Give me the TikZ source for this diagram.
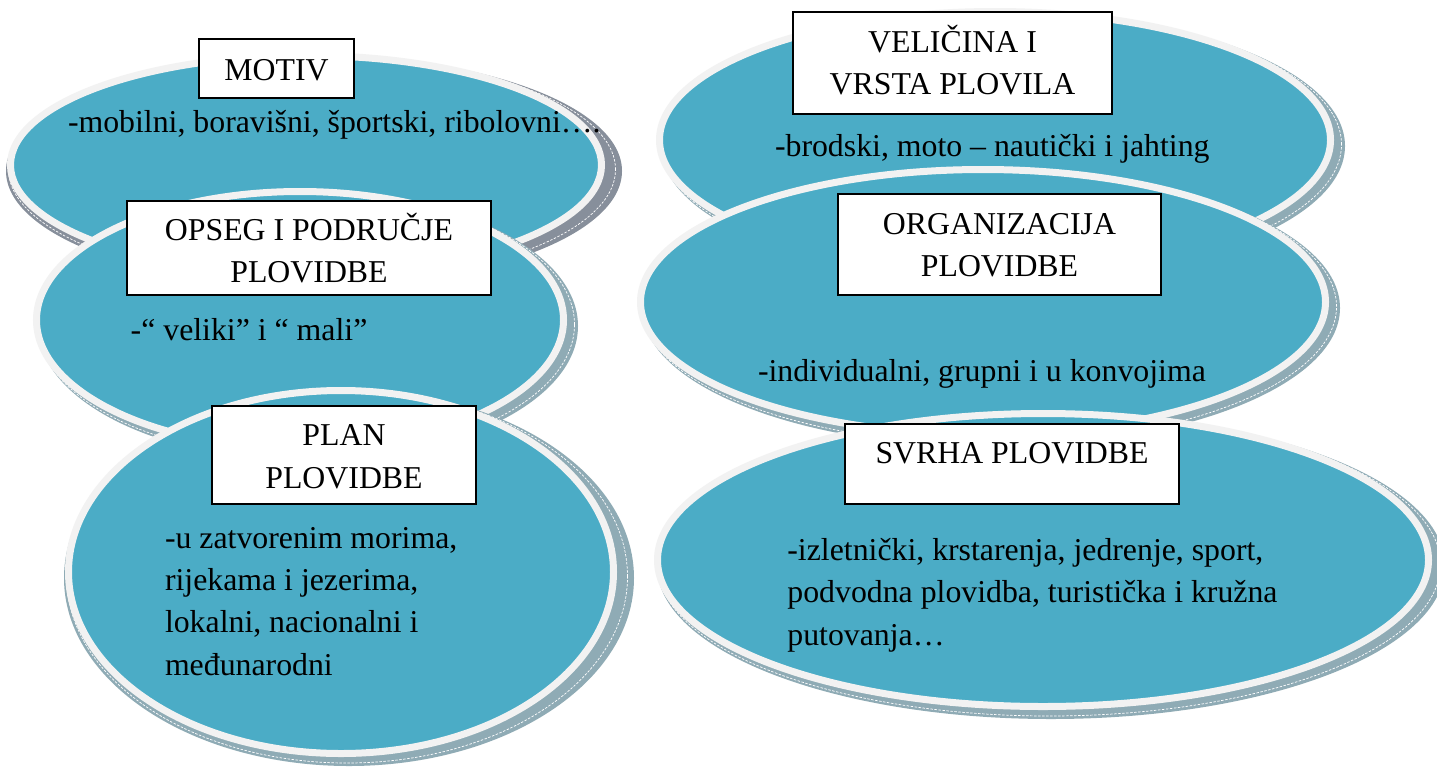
\documentclass[tikz,border=0pt]{standalone}
\usepackage{fontspec}
\setmainfont{Liberation Serif}
\usetikzlibrary{shapes.geometric}
\definecolor{aqua}{HTML}{4BACC6}
\definecolor{rim}{HTML}{F2F2F2}
\definecolor{shadeA}{HTML}{878F9B}
\definecolor{shadeB}{HTML}{8FABB5}
\tikzset{
  oval/.style={ellipse, inner sep=0pt, outer sep=0pt, fill=aqua, draw=rim, line width=7pt},
  ovshadow/.style={ellipse, inner sep=0pt, outer sep=0pt},
  ovdash/.style={ellipse, inner sep=0pt, outer sep=0pt, draw=white, line width=0.7pt, dash pattern=on 2.5pt off 1.5pt},
  titlebox/.style={draw=black, fill=white, line width=1.6pt, inner sep=0pt, outer sep=0pt},
  txt/.style={inner sep=0pt, outer sep=0pt, font=\fontsize{31.8pt}{42.3pt}\selectfont},
  body/.style={txt, anchor=base west},
  head/.style={txt, anchor=base},
}
% #1 name, #2 cx, #3 cy, #4 rx, #5 ry, #6 shadow colour, #7 extra shadow width
\newcommand\bubble[7]{%
  \node[ovshadow, fill=#6, minimum width={2*(#4+#7)}, minimum height={2*(#5+3)}] (#1-shadow) at (#2+8,#3+6) {};
  \node[ovdash, minimum width={2*(#4+#7/2)}, minimum height={2*(#5+1.5)}] (#1-bevel) at (#2+6,#3+4.5) {};
  \node[oval, minimum width={2*#4-7}, minimum height={2*#5-7}] (#1) at (#2,#3) {};
}
\begin{document}
\begin{tikzpicture}[x=1pt,y=-1pt]
\useasboundingbox[fill=white] (0,0) rectangle (1437,766);

% 1 MOTIV
\bubble{e1}{306}{165}{299}{113}{shadeA}{9}
\node[titlebox, minimum width=155pt, minimum height=59pt] (b1) at (276.5,68.5) {};
\node[head] (h1) at (276.5,80) {MOTIV};
\node[body] (t1) at (68,132) {-mobilni, boravišni, športski, ribolovni….};

% 2 VELICINA
\bubble{e2}{995}{140}{339}{132}{shadeB}{3}
\node[titlebox, minimum width=319pt, minimum height=102pt] (b2) at (952.5,63) {};
\node[head] (h2a) at (952.5,52.7) {VELIČINA I};
\node[head] (h2b) at (952.5,94.5) {VRSTA PLOVILA};
\node[body] (t2) at (775,156.7) {-brodski, moto – nautički i jahting};

% 3 OPSEG
\bubble{e3}{300}{320}{267}{132}{shadeB}{3}
\node[titlebox, minimum width=364pt, minimum height=94pt] (b3) at (309,248) {};
\node[head] (h3a) at (309,240) {OPSEG I PODRUČJE};
\node[head] (h3b) at (309,282.5) {PLOVIDBE};
\node[body] (t3) at (130.7,340) {-“ veliki” i “ mali”};

% 4 ORGANIZACIJA
\bubble{e4}{983}{302}{346}{136}{shadeB}{3}
\node[titlebox, minimum width=323pt, minimum height=101pt] (b4) at (999.5,244.5) {};
\node[head] (h4a) at (999.5,234.3) {ORGANIZACIJA};
\node[head] (h4b) at (999.5,276.7) {PLOVIDBE};
\node[body] (t4) at (758,381) {-individualni, grupni i u konvojima};

% 5 PLAN
\bubble{e5}{341}{572}{276}{185}{shadeB}{9}
\node[titlebox, minimum width=264pt, minimum height=98pt] (b5) at (344,455) {};
\node[head] (h5a) at (344,445) {PLAN};
\node[head] (h5b) at (344,488) {PLOVIDBE};
\node[body] (t5a) at (165,548) {-u zatvorenim morima,};
\node[body] (t5b) at (165,590) {rijekama i jezerima,};
\node[body] (t5c) at (165,632) {lokalni, nacionalni i};
\node[body] (t5d) at (165,675) {međunarodni};

% 6 SVRHA
\bubble{e6}{1043}{560}{389}{150}{shadeB}{5}
\node[titlebox, minimum width=334pt, minimum height=80pt] (b6) at (1012,464) {};
\node[head] (h6) at (1012,463.3) {SVRHA PLOVIDBE};
\node[body] (t6a) at (787.4,560) {-izletnički, krstarenja, jedrenje, sport,};
\node[body] (t6b) at (787.4,602) {podvodna plovidba, turistička i kružna};
\node[body] (t6c) at (787.4,645) {putovanja…};
\end{tikzpicture}
\end{document}
